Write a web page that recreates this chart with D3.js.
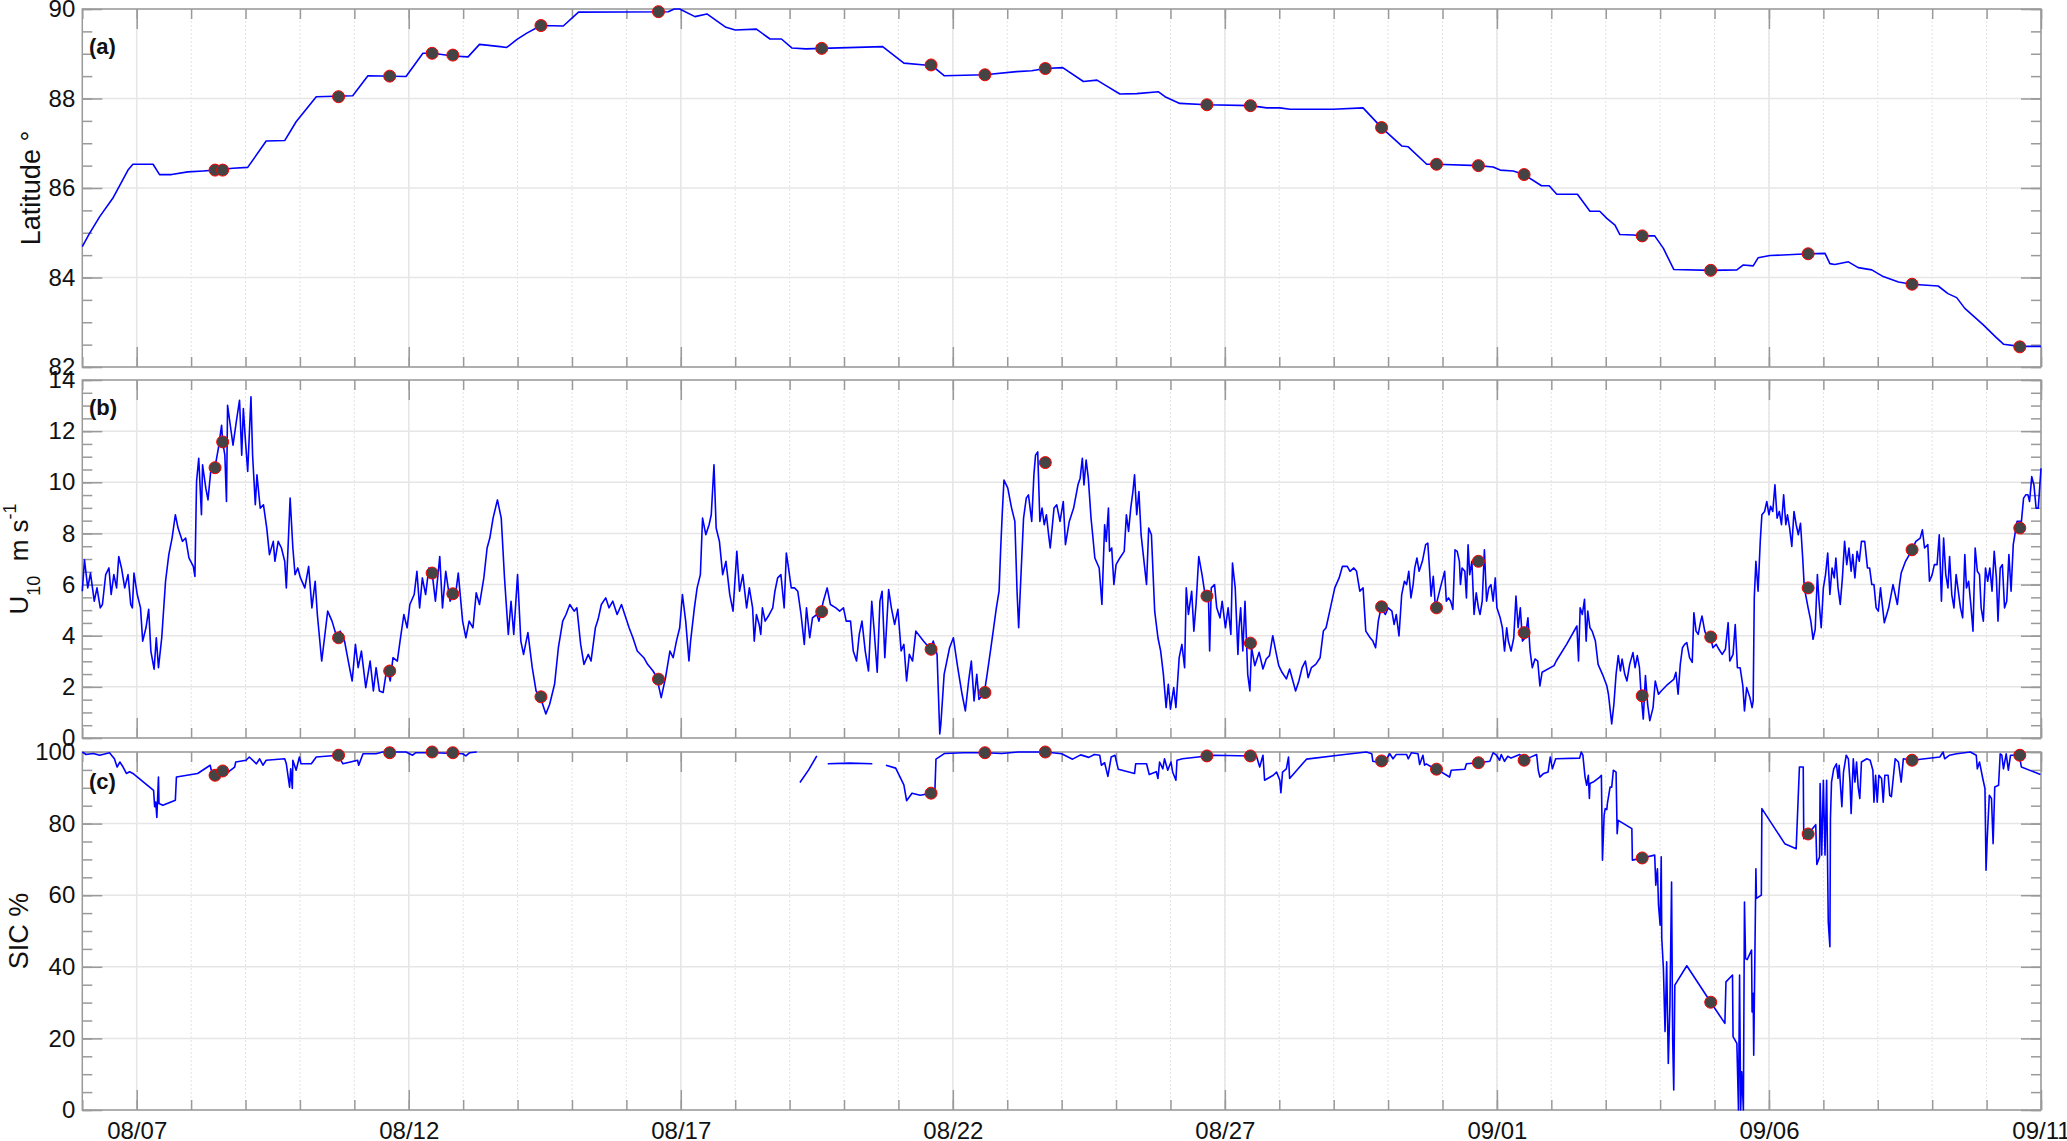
<!DOCTYPE html>
<html>
<head>
<meta charset="utf-8">
<script src="https://cdn.jsdelivr.net/npm/d3@7"></script>
<style>
  body { margin: 0; background: #fff; }
  svg text { font-family: "Liberation Sans", Arial, Helvetica, sans-serif; fill: #111; }
</style>
</head>
<body>
<svg id="chart" width="2067" height="1141"></svg>
<script>
// days since 08/06 00:00
var latDay = [0,0.13,0.32,0.56,0.84,0.93,1.30,1.42,1.64,1.94,2.22,2.43,2.77,3.04,3.38,3.72,3.93,4.30,4.97,5.25,5.95,6.26,6.44,6.81,7.09,7.30,7.68,7.80,7.99,8.17,8.43,8.84,9.12,10.77,10.88,10.98,11.26,11.48,11.83,12.00,12.39,12.64,12.85,13.04,13.30,13.59,14.71,15.10,15.48,15.60,15.84,16.59,17.17,17.45,17.70,18.02,18.40,18.65,18.80,19.07,19.38,19.78,19.90,20.17,20.67,21.47,21.77,22.01,22.20,22.99,23.54,23.88,24.25,24.37,24.71,24.89,25.66,25.93,26.06,26.30,26.50,26.82,26.96,27.10,27.48,27.71,27.89,28.02,28.17,28.26,28.51,28.67,28.90,29.06,29.25,29.93,30.41,30.53,30.71,30.80,31.02,31.72,32.03,32.12,32.21,32.46,32.64,32.89,33.10,33.38,33.63,34.11,34.29,34.45,34.60,34.94,35.16,35.31,35.61,36.0];
var latVal = [84.69,84.98,85.36,85.77,86.40,86.53,86.53,86.30,86.30,86.36,86.38,86.40,86.44,86.46,87.05,87.06,87.48,88.04,88.06,88.51,88.49,89.01,89.01,88.95,88.93,89.21,89.16,89.14,89.32,89.46,89.63,89.62,89.93,89.94,90.0,90.0,89.83,89.89,89.59,89.53,89.55,89.33,89.33,89.13,89.11,89.12,89.16,88.79,88.75,88.75,88.51,88.53,88.60,88.62,88.67,88.69,88.38,88.41,88.30,88.10,88.11,88.15,88.04,87.89,87.86,87.84,87.79,87.79,87.76,87.76,87.79,87.35,86.94,86.92,86.53,86.53,86.50,86.47,86.40,86.38,86.30,86.05,86.05,85.86,85.86,85.48,85.48,85.32,85.17,84.96,84.95,84.93,84.93,84.65,84.18,84.16,84.17,84.28,84.26,84.44,84.49,84.53,84.54,84.31,84.29,84.35,84.22,84.17,84.02,83.90,83.85,83.81,83.64,83.55,83.31,82.94,82.68,82.51,82.46,82.46];

var windDay = [0.00,0.04,0.10,0.15,0.22,0.27,0.33,0.37,0.43,0.49,0.53,0.58,0.63,0.67,0.72,0.78,0.84,0.89,0.92,0.95,1.01,1.07,1.11,1.17,1.22,1.26,1.32,1.36,1.40,1.46,1.53,1.59,1.65,1.71,1.76,1.84,1.90,1.96,2.04,2.07,2.10,2.14,2.19,2.21,2.27,2.31,2.36,2.44,2.50,2.56,2.58,2.62,2.65,2.67,2.72,2.77,2.83,2.89,2.93,2.96,3.00,3.04,3.10,3.13,3.18,3.21,3.27,3.33,3.39,3.44,3.51,3.54,3.60,3.66,3.72,3.75,3.82,3.87,3.91,3.96,4.01,4.09,4.16,4.22,4.28,4.32,4.40,4.43,4.51,4.59,4.68,4.74,4.82,4.90,4.96,5.02,5.07,5.13,5.21,5.29,5.35,5.40,5.46,5.53,5.60,5.66,5.71,5.79,5.84,5.91,5.97,6.02,6.10,6.15,6.20,6.25,6.31,6.37,6.43,6.49,6.57,6.62,6.68,6.76,6.81,6.86,6.91,6.99,7.05,7.11,7.18,7.24,7.30,7.38,7.44,7.49,7.55,7.63,7.70,7.76,7.83,7.88,7.93,8.00,8.06,8.11,8.19,8.27,8.34,8.42,8.52,8.59,8.68,8.75,8.83,8.89,8.96,9.04,9.09,9.16,9.22,9.30,9.35,9.43,9.48,9.54,9.62,9.68,9.75,9.83,9.91,9.97,10.05,10.12,10.20,10.32,10.39,10.49,10.56,10.64,10.72,10.80,10.86,10.92,10.98,11.03,11.09,11.15,11.18,11.25,11.30,11.36,11.40,11.46,11.52,11.56,11.61,11.65,11.71,11.77,11.83,11.90,11.96,
  12.03,12.08,12.14,12.21,12.26,12.32,12.35,12.39,12.44,12.47,12.50,12.55,12.61,12.69,12.73,12.78,12.84,12.90,12.94,12.98,13.03,13.09,13.15,13.21,13.27,13.31,13.37,13.42,13.50,13.54,13.62,13.69,13.75,13.85,13.92,13.99,14.04,14.12,14.17,14.23,14.28,14.33,14.39,14.45,14.51,14.55,14.61,14.66,14.70,14.75,14.82,14.87,14.93,14.99,15.05,15.10,15.15,15.20,15.26,15.32,15.46,15.59,15.64,15.71,15.76,15.78,15.84,15.94,16.01,16.09,16.17,16.23,16.29,16.34,16.39,16.44,16.48,16.58,16.63,16.70,16.75,16.80,16.85,16.88,16.91,16.94,17.01,17.08,17.14,17.18,17.21,17.25,17.30,17.35,17.39,17.45,17.49,17.52,17.56,17.60,17.64,17.68,17.72,17.76,17.79,17.86,17.91,17.97,18.03,18.07,18.14,18.22,18.30,18.34,18.38,18.41,18.45,18.49,18.54,18.57,18.61,18.69,18.74,18.79,18.82,18.86,18.88,18.92,18.96,19.00,19.07,19.15,19.19,19.23,19.27,19.31,19.34,19.38,19.42,19.46,19.50,19.56,19.60,19.65,19.71,19.77,19.82,19.87,19.92,19.96,20.00,20.06,20.10,20.16,20.21,20.26,20.29,20.33,20.39,20.43,20.47,20.52,20.58,20.64,20.70,20.72,20.75,20.81,20.85,20.91,20.95,21.01,21.06,21.11,21.14,21.19,21.24,21.26,21.29,21.33,21.37,21.42,21.46,21.49,21.55,21.63,21.70,21.76,21.82,21.88,21.94,21.99,22.05,22.13,22.19,22.24,22.30,22.36,22.42,22.48,22.53,22.59,22.67,22.75,22.81,22.86,22.94,23.02,23.10,23.16,23.25,23.30,23.37,23.42,23.48,23.54,23.59,23.67,23.72,23.77,23.82,23.87,23.95,24.00,
  24.07,24.11,24.15,24.20,24.25,24.30,24.34,24.38,24.42,24.46,24.49,24.53,24.57,24.63,24.69,24.73,24.76,24.79,24.83,24.87,24.96,25.04,25.07,25.11,25.15,25.19,25.23,25.27,25.31,25.33,25.36,25.41,25.44,25.47,25.50,25.54,25.58,25.62,25.66,25.69,25.73,25.77,25.81,25.85,25.89,25.93,25.97,26.00,26.06,26.10,26.14,26.18,26.21,26.26,26.31,26.35,26.39,26.43,26.47,26.52,26.57,26.61,26.65,26.70,26.75,26.79,26.83,27.05,27.09,27.28,27.47,27.50,27.53,27.57,27.61,27.64,27.67,27.71,27.75,27.81,27.86,27.94,28.02,28.05,28.11,28.15,28.19,28.23,28.27,28.30,28.35,28.39,28.44,28.50,28.54,28.58,28.62,28.65,28.69,28.73,28.77,28.81,28.87,28.91,28.97,29.02,29.14,29.25,29.29,29.33,29.37,29.41,29.45,29.49,29.54,29.59,29.62,29.66,29.70,29.74,29.77,29.82,29.87,29.93,29.97,30.03,30.08,30.14,30.20,30.25,30.28,30.34,30.38,30.42,30.47,30.52,30.55,30.59,30.65,30.69,30.71,30.73,30.76,30.80,30.84,30.87,30.92,30.96,31.00,31.03,31.07,31.11,31.15,31.19,31.23,31.27,31.31,31.34,31.38,31.42,31.46,31.50,31.54,31.58,31.62,31.65,31.72,31.77,31.81,31.85,31.89,31.92,31.96,32.00,32.04,32.08,32.12,32.16,32.20,32.23,32.27,32.31,32.35,32.39,32.43,32.47,32.51,32.54,32.58,32.62,32.66,32.70,32.76,32.81,32.85,32.89,32.93,32.97,33.01,33.05,33.09,33.12,33.20,33.28,33.32,33.36,33.40,33.43,33.51,33.63,33.70,33.78,33.82,33.86,33.92,33.95,34.00,34.04,34.09,34.13,34.17,34.21,34.25,34.29,34.32,34.36,34.40,34.44,34.48,34.52,34.56,34.60,34.63,34.67,34.71,34.75,34.79,34.83,34.87,34.90,34.94,34.98,35.02,35.06,35.10,35.14,35.18,35.21,35.25,35.29,35.33,35.37,35.41,35.45,35.49,35.52,35.56,35.64,35.68,35.72,35.76,35.79,35.83,35.87,35.91,35.95,36.00];
var windVal = [5.74,6.97,5.87,6.45,5.35,5.87,5.09,5.22,6.39,6.65,5.61,6.39,5.87,7.10,6.65,5.87,6.39,5.22,5.09,6.45,5.61,5.09,3.79,4.31,5.03,3.40,2.69,3.92,2.75,3.92,6.13,7.17,7.82,8.73,8.21,7.69,7.82,7.04,6.71,6.32,10.03,10.94,8.73,10.68,9.77,9.31,10.42,10.60,11.32,12.23,11.58,11.06,9.25,13.01,12.23,11.45,12.36,13.21,11.06,12.88,11.58,10.42,13.34,11.06,9.12,10.29,8.99,9.12,8.21,7.17,7.69,6.91,7.69,7.43,6.91,5.87,9.38,7.43,6.39,6.65,6.26,5.87,6.71,5.09,6.13,4.83,3.01,3.53,4.96,4.57,3.92,4.18,3.79,2.88,2.23,3.66,2.75,3.40,1.97,3.01,1.84,2.75,1.84,1.78,2.75,2.23,3.14,3.01,3.79,4.83,4.31,5.22,5.61,6.52,5.09,6.26,5.61,6.65,6.45,5.35,7.10,5.09,6.52,5.35,5.61,5.61,6.45,4.57,3.92,4.57,4.31,5.68,5.22,6.26,7.43,7.82,8.60,9.31,8.60,6.26,4.05,5.35,4.05,6.39,3.79,3.27,4.12,2.75,1.84,1.58,0.94,1.32,2.10,3.53,4.57,4.83,5.22,4.96,5.09,3.66,2.88,3.27,3.01,4.31,4.64,5.22,5.48,5.09,5.35,4.83,5.22,4.83,4.31,3.92,3.40,3.14,2.88,2.62,2.36,1.58,2.36,3.40,3.14,3.79,4.31,5.61,4.57,3.01,3.79,5.09,5.87,6.39,8.60,7.95,8.34,8.73,10.68,8.21,7.69,6.39,6.91,5.61,4.96,
  7.30,5.74,6.39,5.09,5.87,5.09,3.79,4.83,4.44,4.05,5.09,4.57,4.77,5.09,5.74,6.26,6.39,5.09,7.23,6.65,5.87,5.87,5.74,4.83,3.66,5.09,3.92,4.70,4.83,4.57,5.35,5.87,5.22,5.09,4.96,5.09,4.57,4.57,3.40,3.01,4.05,4.57,3.40,2.62,5.35,4.31,2.57,5.35,5.74,3.14,5.81,5.09,4.44,5.03,3.40,3.66,2.23,3.27,3.01,4.18,3.79,3.47,3.79,3.27,0.16,0.55,2.49,3.53,3.92,2.75,1.71,1.06,2.23,3.01,1.45,2.49,1.51,1.78,2.49,3.53,4.31,5.09,5.74,7.43,8.86,10.09,9.77,8.99,8.47,5.74,4.31,6.26,8.60,9.38,9.51,8.47,10.29,11.06,11.19,8.47,8.99,8.34,8.73,7.95,7.43,8.99,9.12,8.47,9.25,7.56,8.47,8.99,9.90,10.16,10.94,9.90,10.87,10.16,8.60,7.95,7.04,6.65,5.22,8.34,7.69,8.99,7.30,7.43,6.00,6.78,7.04,7.30,8.73,8.08,8.99,9.64,10.29,8.73,9.64,7.95,7.17,6.00,8.21,7.95,4.96,3.92,3.40,2.49,1.19,2.10,1.13,1.97,1.19,3.14,3.66,2.75,5.87,4.83,5.74,4.18,5.22,7.10,6.39,5.55,5.35,3.40,5.87,6.00,5.09,4.70,5.35,4.31,5.09,4.05,6.84,5.87,3.27,4.31,5.09,3.40,5.35,2.49,1.84,3.53,2.83,3.35,2.70,3.09,3.22,4.00,3.35,2.83,2.57,2.31,2.70,2.31,1.84,2.23,2.75,3.01,2.36,2.75,2.88,3.14,4.18,4.31,5.09,5.87,6.26,6.71,6.71,6.52,6.65,6.52,5.74,5.87,4.18,3.92,3.79,3.53,4.57,5.09,4.83,5.09,
  4.96,4.44,4.83,3.99,5.61,6.13,6.00,6.52,5.48,6.00,6.65,7.04,6.52,6.91,7.56,7.62,6.65,5.55,6.32,5.09,5.87,6.52,5.35,5.48,5.35,5.03,7.36,7.30,6.91,6.00,6.65,6.52,5.48,7.56,6.39,6.91,4.83,5.68,5.09,4.83,5.35,7.36,5.35,5.87,6.00,5.35,6.26,5.09,4.70,4.31,3.40,4.31,3.79,3.40,3.92,5.55,4.31,5.09,3.79,3.92,4.70,3.40,2.75,3.09,3.01,2.04,2.57,2.83,3.01,3.66,4.38,3.01,5.09,4.83,5.42,3.79,4.96,4.31,4.18,3.79,2.88,2.49,2.04,1.71,0.55,1.32,2.49,3.22,2.62,3.09,2.49,2.23,2.88,3.34,2.75,3.22,2.75,1.71,0.74,2.44,1.32,0.68,1.19,2.23,1.71,1.84,2.10,2.29,2.57,1.71,2.88,3.53,3.66,3.73,3.14,2.96,4.90,4.18,4.05,4.51,4.77,4.18,3.92,3.92,3.53,3.66,3.47,3.27,3.47,4.51,3.01,3.27,4.44,2.75,2.75,2.04,1.06,1.97,1.58,1.19,1.45,5.48,6.91,5.74,7.69,8.73,8.86,9.25,8.73,9.06,8.86,9.90,8.60,8.86,8.34,9.51,8.34,8.73,8.21,7.49,8.86,8.34,7.95,8.40,7.04,5.87,5.09,4.57,3.86,4.25,6.39,5.35,4.31,5.87,6.39,7.23,5.61,6.65,6.26,7.04,5.87,5.22,6.26,7.69,6.78,7.43,6.52,7.17,6.26,7.30,6.91,7.69,7.69,6.65,6.65,6.00,6.00,5.09,4.96,5.87,5.09,4.51,5.09,6.00,5.61,5.22,6.00,6.45,6.91,7.36,7.69,7.82,8.14,7.43,7.56,6.13,6.39,6.78,6.78,7.95,5.35,7.82,6.39,5.87,7.10,5.61,5.09,6.39,5.74,5.09,4.70,7.17,5.87,6.13,5.22,4.18,7.43,6.52,6.39,5.09,4.57,6.65,6.13,6.65,5.74,7.30,6.26,4.57,6.65,6.78,5.09,5.35,7.17,5.74,7.56,7.95,8.47,8.47,9.38,9.51,9.51,9.25,10.22,9.90,8.99,8.99,10.55];

// null = no data
var sicDay = [0,0.07,0.20,0.32,0.50,0.59,0.64,0.69,0.75,0.81,0.87,0.93,1.31,1.33,1.35,1.37,1.40,1.41,1.48,1.71,1.73,2.12,2.35,2.40,2.44,2.52,2.68,2.80,2.82,3.01,3.07,3.20,3.26,3.32,3.38,3.72,3.75,3.81,3.83,3.86,3.87,3.93,3.99,4.02,4.21,4.30,4.70,4.79,5.06,5.08,5.16,5.40,5.52,5.95,6.07,6.13,6.44,6.99,7.05,7.12,7.25,7.30,
  13.19,13.35,13.50,13.60,13.70,14.10,14.52,14.60,
  14.77,14.95,15.10,15.15,15.25,15.40,15.60,15.67,15.69,15.85,16.20,16.59,16.90,17.20,17.70,18.00,18.20,18.35,18.50,18.60,
  18.70,18.73,18.79,18.85,18.91,18.98,19.04,19.34,19.36,19.56,19.61,19.74,19.77,19.80,19.86,19.89,19.95,20.01,20.04,20.10,20.12,20.22,20.67,20.81,21.47,21.58,21.64,21.70,21.73,21.89,21.95,22.01,22.03,22.06,22.13,22.17,22.19,22.50,23.20,23.60,23.70,23.72,23.79,23.88,23.97,24.03,24.09,24.15,24.34,24.37,24.43,24.55,24.58,24.64,24.67,24.70,24.80,24.89,25.13,25.16,25.41,25.44,25.66,25.87,25.93,25.99,26.05,26.08,26.14,26.20,26.26,26.42,26.50,26.61,26.73,26.76,26.79,26.85,26.94,26.98,27.02,27.08,27.52,27.55,27.58,27.62,27.65,27.68,27.70,27.71,27.77,27.89,27.92,27.94,27.97,27.99,28.02,28.03,28.08,28.11,28.14,28.19,28.21,28.23,28.48,28.49,28.67,28.90,28.92,28.95,28.97,29.00,29.02,29.03,29.06,29.09,29.12,29.15,29.18,29.21,29.23,29.25,29.27,29.49,29.93,30.19,30.21,30.33,30.34,30.41,30.44,30.46,30.48,30.50,30.53,30.55,30.57,30.60,30.68,30.69,30.71,30.72,30.76,30.77,30.86,30.87,31.29,31.50,31.56,31.63,31.64,31.72,31.86,31.88,31.93,31.94,31.97,32.00,32.03,32.06,32.09,32.12,32.13,32.15,32.19,32.24,32.27,32.29,32.34,32.37,32.42,32.46,32.49,32.51,32.55,32.58,32.61,32.64,32.67,32.70,32.80,32.86,32.91,32.93,32.96,32.99,33.02,33.07,33.10,33.13,33.19,33.22,33.25,33.32,33.38,33.43,33.47,33.63,34.14,34.20,34.23,34.32,34.45,34.70,34.81,34.83,34.87,34.93,34.97,34.99,35.01,35.05,35.09,35.12,35.15,35.22,35.25,35.28,35.31,35.36,35.40,35.44,35.60,35.64,35.99];
var sicVal = [100,99.3,99.6,99.1,99.8,98.1,95.8,97.2,95.8,94.0,94.5,94.0,89.3,84.7,86.0,81.7,93.0,85.6,85.1,86.5,93.0,94.0,96.3,93.0,93.5,94.4,94.4,95.8,97.2,97.7,98.6,96.7,98.1,96.3,97.7,98.1,96.7,90.2,95.3,89.8,97.7,94.9,98.6,96.7,96.7,98.6,99.1,96.7,97.7,96.3,99.5,99.5,100,100,99.1,99.8,99.8,99.5,98.9,99.8,100,null,
  91.5,95.0,98.9,null,96.7,96.9,96.7,null,
  96.3,95.5,90.8,86.4,88.5,87.9,88.5,89.0,98.0,99.6,99.8,99.8,99.6,100,100,99.5,98.0,99.2,98.5,99.3,
  99.1,96.3,97.0,93.2,98.6,99.1,95.2,94.0,96.7,96.7,93.7,94.5,92.6,97.2,95.3,98.1,94.9,97.2,94.4,92.1,97.7,98.1,98.9,99.1,98.9,98.9,95.8,99.1,92.1,93.5,94.4,92.1,88.6,94.4,95.3,98.6,92.6,98.0,99.3,100,99.5,97.4,97.2,97.5,98.1,99.5,98.1,99.3,99.3,98.1,99.8,99.5,96.5,99.1,96.3,96.7,95.8,95.2,93.0,94.9,95.2,96.7,97.0,97.4,99.8,99.1,97.7,99.3,97.4,98.8,98.3,99.3,97.7,98.5,99.3,94.9,93.0,93.9,94.4,98.6,95.3,98.1,98.3,100,99.1,93.0,90.7,93.5,87.0,91.2,91.6,93.0,93.5,69.8,82.3,84.2,83.9,85.6,90.2,90.2,94.9,94.4,77.2,80.9,78.6,69.8,70.4,71.2,62.8,67.4,57.2,51.6,70.7,47.9,39.5,21.9,41.4,13.0,29.3,63.7,20.0,5.6,34.9,40.3,30.1,24.2,35.8,37.7,20.5,18.6,0,37.7,0,10.7,0,58.1,42.3,42.0,44.7,27.4,32.6,15.3,67.4,59.1,60.0,84.2,74.4,73.0,95.8,95.8,75.8,77.1,79.7,68.6,70.7,91.2,71.2,92.1,71.2,92.1,52.6,45.6,81.4,91.6,95.3,96.7,92.6,96.3,84.7,94.4,99.1,98.1,91.6,82.8,98.1,91.6,97.2,90.2,87.0,97.2,98.1,97.7,94.9,86.0,93.5,86.0,93.5,92.6,86.0,93.5,93.5,87.9,87.5,98.1,97.2,91.6,98.1,97.7,98.6,100,98.1,99.1,99.5,100,99.1,95.3,97.2,92.6,89.8,67.0,75.3,87.9,87.0,74.4,90.2,90.7,99.5,99.1,95.3,99.5,94.9,99.1,99.1,95.8,93.7];

// sampling stations
var markDay  = [2.44,2.58,4.71,5.65,6.43,6.81,8.43,10.59,13.59,15.60,16.59,17.70,20.67,21.47,23.88,24.89,25.66,26.50,28.67,29.93,31.72,33.63,35.61];
var markLat  = [86.40,86.40,88.04,88.50,89.01,88.97,89.63,89.94,89.12,88.75,88.53,88.67,87.86,87.84,87.35,86.53,86.50,86.30,84.93,84.16,84.53,83.85,82.45];
var markWind = [10.57,11.58,3.92,2.62,6.45,5.64,1.61,2.30,4.94,3.47,1.78,10.77,5.55,3.71,5.13,5.09,6.91,4.12,1.65,3.95,5.87,7.36,8.21];
var markSic  = [93.5,94.7,99.1,99.8,100,99.8,null,null,null,88.5,99.8,100,98.9,98.9,97.5,95.2,97.0,97.7,70.4,30.1,77.1,97.7,99.1];

var t0 = Date.UTC(2018, 7, 6);
function toDate(d) { return new Date(t0 + d * 864e5); }

var left = 82.3, right = 2041;
var x = d3.scaleUtc().domain([toDate(0), toDate(36)]).range([left, right]);
var majorDates = d3.range(1, 37, 5).map(toDate);
var minorDates = d3.range(0, 37, 1).map(toDate);

var panels = [
  { top: 9, bottom: 367, domain: [82, 90], major: d3.range(82, 90.01, 2), minor: d3.range(82, 90.01, 0.5),
    day: latDay, val: latVal, mark: markLat, label: "(a)", labelY: 53.5 },
  { top: 380, bottom: 738, domain: [0, 14], major: d3.range(0, 14.01, 2), minor: d3.range(0, 14.01, 0.5),
    day: windDay, val: windVal, mark: markWind, label: "(b)", labelY: 415 },
  { top: 752, bottom: 1110, domain: [0, 100], major: d3.range(0, 100.01, 20), minor: d3.range(0, 100.01, 5),
    day: sicDay, val: sicVal, mark: markSic, label: "(c)", labelY: 788.5 }
];

var svg = d3.select("#chart");

panels.forEach(function(p, i) {
  var y = d3.scaleLinear().domain(p.domain).range([p.bottom, p.top]);
  var g = svg.append("g");
  var h = p.bottom - p.top;

  // grid
  g.selectAll(".xminor").data(minorDates).enter().append("line")
    .attr("x1", d => x(d)).attr("x2", d => x(d)).attr("y1", p.top).attr("y2", p.bottom)
    .attr("stroke", "#e4e4e4").attr("stroke-width", 1).attr("stroke-dasharray", "2,2");
  g.selectAll(".xmajor").data(majorDates).enter().append("line")
    .attr("x1", d => x(d)).attr("x2", d => x(d)).attr("y1", p.top).attr("y2", p.bottom)
    .attr("stroke", "#e6e6e6").attr("stroke-width", 1.5);
  g.selectAll(".ymajor").data(p.major).enter().append("line")
    .attr("x1", left).attr("x2", right).attr("y1", d => y(d)).attr("y2", d => y(d))
    .attr("stroke", "#e6e6e6").attr("stroke-width", 1.5);

  // ticks, pointing inward on all four sides
  function tickStyle(sel) {
    sel.select(".domain").remove();
    sel.selectAll(".tick line").attr("stroke", "#9a9a9a").attr("stroke-width", 1.5);
    sel.selectAll("text").attr("font-size", 24).attr("fill", "#111");
  }
  g.append("g").attr("transform", `translate(${left},0)`)
    .call(d3.axisLeft(y).tickValues(p.minor).tickSize(-10).tickFormat("")).call(tickStyle);
  g.append("g").attr("transform", `translate(${left},0)`)
    .call(d3.axisLeft(y).tickValues(p.major).tickSize(-20).tickPadding(7).tickFormat(d3.format("d"))).call(tickStyle);
  g.append("g").attr("transform", `translate(${right},0)`)
    .call(d3.axisRight(y).tickValues(p.minor).tickSize(-10).tickFormat("")).call(tickStyle);
  g.append("g").attr("transform", `translate(${right},0)`)
    .call(d3.axisRight(y).tickValues(p.major).tickSize(-20).tickFormat("")).call(tickStyle);
  g.append("g").attr("transform", `translate(0,${p.top})`)
    .call(d3.axisTop(x).tickValues(minorDates).tickSize(-10).tickFormat("")).call(tickStyle);
  g.append("g").attr("transform", `translate(0,${p.top})`)
    .call(d3.axisTop(x).tickValues(majorDates).tickSize(-20).tickFormat("")).call(tickStyle);
  g.append("g").attr("transform", `translate(0,${p.bottom})`)
    .call(d3.axisBottom(x).tickValues(minorDates).tickSize(-10).tickFormat("")).call(tickStyle);
  g.append("g").attr("transform", `translate(0,${p.bottom})`)
    .call(d3.axisBottom(x).tickValues(majorDates).tickSize(-20).tickPadding(12)
      .tickFormat(i == 2 ? d3.utcFormat("%m/%d") : "")).call(tickStyle);

  g.append("rect").attr("x", left).attr("y", p.top).attr("width", right - left).attr("height", h)
    .attr("fill", "none").attr("stroke", "#9a9a9a").attr("stroke-width", 1.5);

  var pts = p.day.map((d, k) => ({ t: toDate(d), v: p.val[k] }));
  var line = d3.line().defined(d => d.v != null).x(d => x(d.t)).y(d => y(d.v));
  g.append("path").datum(pts).attr("d", line)
    .attr("fill", "none").attr("stroke", "#0000ff").attr("stroke-width", 1.6).attr("stroke-linejoin", "round");

  var marks = markDay.map((d, k) => ({ t: toDate(d), v: p.mark[k] })).filter(d => d.v != null);
  g.selectAll(".mk").data(marks).enter().append("circle")
    .attr("cx", d => x(d.t)).attr("cy", d => y(d.v)).attr("r", 6)
    .attr("fill", "#444444").attr("stroke", "#ff0000").attr("stroke-width", 1);

  g.append("text").attr("x", 89).attr("y", p.labelY)
    .attr("font-size", 22).attr("font-weight", "bold").text(p.label);
});

// y axis titles
svg.append("text")
  .attr("transform", "translate(40,188)rotate(-90)")
  .attr("text-anchor", "middle").attr("font-size", 27)
  .text("Latitude \u00b0");

var ut = svg.append("text")
  .attr("transform", "translate(28,559)rotate(-90)")
  .attr("text-anchor", "middle").attr("font-size", 26);
ut.append("tspan").text("U");
ut.append("tspan").attr("font-size", 18).attr("dy", 12).text("10");
ut.append("tspan").attr("dy", -12).text("\u00a0 m s");
ut.append("tspan").attr("font-size", 18).attr("dy", -12).text("-1");

svg.append("text")
  .attr("transform", "translate(28,931)rotate(-90)")
  .attr("text-anchor", "middle").attr("font-size", 27)
  .text("SIC %");
</script>
</body>
</html>
